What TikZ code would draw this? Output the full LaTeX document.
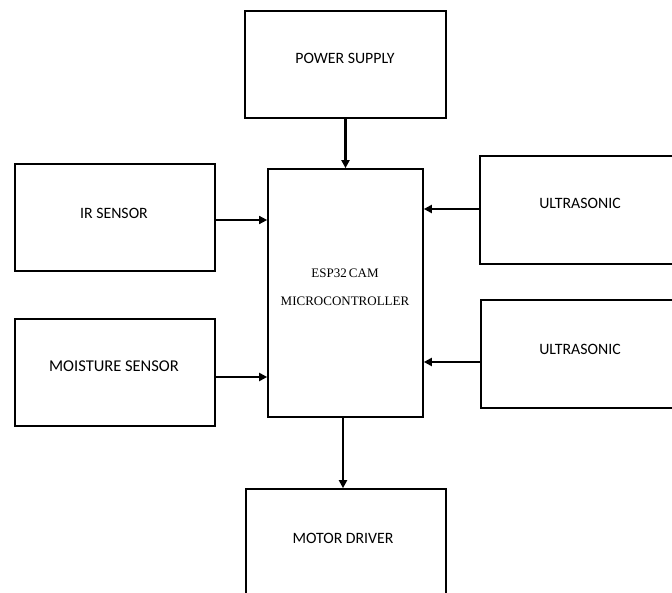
\documentclass[tikz,border=0pt]{standalone}
\usepackage{fontspec}
\setmainfont{Carlito}
\newfontfamily\timesf{Liberation Serif}
\usetikzlibrary{arrows.meta}
\begin{document}
\begin{tikzpicture}[x=1pt,y=-1pt,
  blk/.style={draw=black,line width=1.7pt,rectangle,inner sep=0pt},
  lbl/.style={font=\fontsize{15.8}{17}\selectfont,inner sep=0pt},
  tlbl/.style={font=\timesf\fontsize{13}{15}\selectfont,inner sep=0pt},
  arr/.style={draw=black,line width=2pt,-{Triangle[length=8pt,width=8pt]}}]
\useasboundingbox (0,0) rectangle (672,593);
\clip (0,0) rectangle (672,593);
\node[blk,minimum width=201pt,minimum height=107pt] (power) at (345.5,64.5) {};
\node[blk,minimum width=155pt,minimum height=248pt] (esp) at (345.5,293) {};
\node[blk,minimum width=200pt,minimum height=107pt] (ir) at (115,217.5) {};
\node[blk,minimum width=200pt,minimum height=107pt] (moist) at (115,372.5) {};
\node[blk,minimum width=220pt,minimum height=108pt] (us1) at (590,210) {};
\node[blk,minimum width=220pt,minimum height=108pt] (us2) at (591,354) {};
\node[blk,minimum width=200pt,minimum height=112pt] (motor) at (346,545) {};
\node[lbl] (tpower) at (345,58) {POWER SUPPLY};
\node[tlbl] (tesp1) at (345,273) {ESP32\,CAM};
\node[tlbl] (tesp2) at (345,301) {MICROCONTROLLER};
\node[lbl] (tir) at (114,213) {IR SENSOR};
\node[lbl,font=\fontsize{16.5}{18}\selectfont] (tmoist) at (114,366) {MOISTURE SENSOR};
\node[lbl] (tus1) at (580,203) {ULTRASONIC};
\node[lbl] (tus2) at (580,349) {ULTRASONIC};
\node[lbl] (tmotor) at (343,538) {MOTOR DRIVER};
\draw[arr,line width=2.6pt] (power.south) -- (esp.north);
\draw[arr,line width=1.6pt] (ir.east |- 0,220) -- (esp.west |- 0,220);
\draw[arr,line width=2.8pt] (moist.east |- 0,377) -- (esp.west |- 0,377);
\draw[arr] (us1.west |- 0,209) -- (esp.east |- 0,209);
\draw[arr] (us2.west |- 0,362) -- (esp.east |- 0,362);
\draw[arr,line width=2.6pt] (esp.south -| 343,0) -- (motor.north -| 343,0);
\end{tikzpicture}
\end{document}
